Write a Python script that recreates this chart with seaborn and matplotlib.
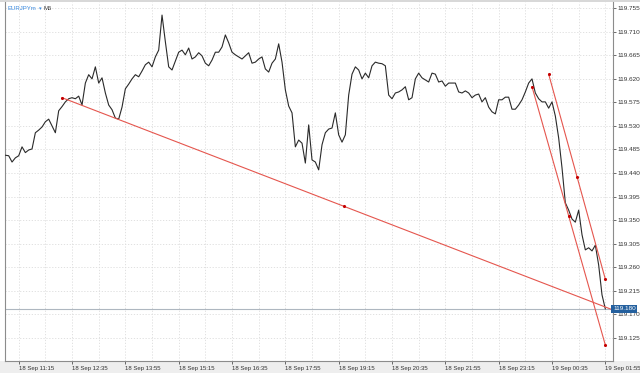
import numpy as np
import pandas as pd
import matplotlib
matplotlib.use("Agg")
import matplotlib.pyplot as plt
from matplotlib.patches import Rectangle
import seaborn as sns

# ---- data -------------------------------------------------------------
symbol = "EURJPYm"
timeframe = "M5"

close = [
    119.474, 119.473, 119.461, 119.469, 119.473, 119.490, 119.479, 119.484, 119.486, 119.517,
    119.522, 119.528, 119.538, 119.543, 119.530, 119.517, 119.559, 119.567, 119.576, 119.582,
    119.584, 119.582, 119.587, 119.570, 119.612, 119.628, 119.620, 119.643, 119.612, 119.622,
    119.593, 119.570, 119.561, 119.545, 119.543, 119.566, 119.601, 119.610, 119.620, 119.628,
    119.624, 119.635, 119.647, 119.652, 119.643, 119.662, 119.675, 119.742, 119.691, 119.643,
    119.637, 119.654, 119.671, 119.675, 119.666, 119.679, 119.658, 119.662, 119.670, 119.664,
    119.650, 119.645, 119.656, 119.671, 119.671, 119.681, 119.704, 119.689, 119.671, 119.666,
    119.662, 119.658, 119.664, 119.670, 119.650, 119.652, 119.658, 119.662, 119.639, 119.633,
    119.650, 119.658, 119.687, 119.652, 119.599, 119.568, 119.555, 119.490, 119.503, 119.497,
    119.459, 119.532, 119.465, 119.461, 119.446, 119.494, 119.517, 119.524, 119.526, 119.555,
    119.513, 119.499, 119.513, 119.589, 119.629, 119.643, 119.637, 119.620, 119.631, 119.622,
    119.645, 119.652, 119.650, 119.649, 119.645, 119.589, 119.582, 119.593, 119.595, 119.599,
    119.605, 119.580, 119.584, 119.620, 119.631, 119.622, 119.618, 119.614, 119.631, 119.629,
    119.614, 119.616, 119.606, 119.612, 119.612, 119.612, 119.595, 119.593, 119.597, 119.593,
    119.584, 119.589, 119.591, 119.576, 119.584, 119.566, 119.557, 119.553, 119.580, 119.580,
    119.585, 119.585, 119.562, 119.562, 119.570, 119.580, 119.595, 119.612, 119.620, 119.593,
    119.582, 119.576, 119.576, 119.564, 119.576, 119.549, 119.507, 119.450, 119.383, 119.369,
    119.352, 119.346, 119.369, 119.322, 119.293, 119.297, 119.291, 119.302, 119.264, 119.207,
    119.180,
]

time_labels = ["18 Sep 11:15", "18 Sep 12:35", "18 Sep 13:55", "18 Sep 15:15",
               "18 Sep 16:35", "18 Sep 17:55", "18 Sep 19:15", "18 Sep 20:35",
               "18 Sep 21:55", "18 Sep 23:15", "19 Sep 00:35", "19 Sep 01:55"]
time_label_bars = [4, 20, 36, 52, 68, 84, 100, 116, 132, 148, 164, 180]

price_ticks = [119.125, 119.170, 119.215, 119.260, 119.305, 119.350, 119.395,
               119.440, 119.485, 119.530, 119.575, 119.620, 119.665, 119.710, 119.755]

# trend lines: start / end anchors (bar index, price)
trend_long_bars = [17, 186]
trend_long_prices = [119.584, 119.169]
channel_a_bars = [158, 180]
channel_a_prices = [119.605, 119.111]
channel_b_bars = [163, 180]
channel_b_prices = [119.629, 119.237]

# ---- style ------------------------------------------------------------
sns.set_theme(style="white")
plt.rcParams["font.family"] = ["Liberation Sans", "DejaVu Sans"]

W, H = 640, 373
fig = plt.figure(figsize=(W / 100, H / 100), dpi=100)
fig.patch.set_facecolor("white")
fig.add_artist(Rectangle((0, 0), 1, 12 / H, transform=fig.transFigure,
                         facecolor="#eeeeee", edgecolor="none", zorder=0))
fig.add_artist(Rectangle((0, 1 - 2 / H), 1, 2 / H, transform=fig.transFigure,
                         facecolor="#d8d8d8", edgecolor="none", zorder=0))

ax = fig.add_axes([5 / W, 12 / H, 608 / W, 359 / H])
ax.set_facecolor("white")

df = pd.DataFrame({"bar": np.arange(len(close)), "close": close})
sns.lineplot(data=df, x="bar", y="close", ax=ax, color="#2a2a2a", lw=0.8, zorder=3)

last = close[-1]
ax.axhline(last, color="#aeb7c0", lw=0.8, zorder=2)

red_line = "#e5564e"
red_dot = "#c40000"
for bx, py in [(trend_long_bars, trend_long_prices),
               (channel_a_bars, channel_a_prices),
               (channel_b_bars, channel_b_prices)]:
    tdf = pd.DataFrame({"bar": bx, "price": py})
    sns.lineplot(data=tdf, x="bar", y="price", ax=ax, color=red_line, lw=0.8, zorder=4)
    pts_x = [bx[0], (bx[0] + bx[1]) / 2, bx[1]]
    pts_y = [py[0], (py[0] + py[1]) / 2, py[1]]
    ax.scatter(pts_x, pts_y, s=5, color=red_dot, zorder=5, linewidths=0)

# ticks & grid
ax.set_xticks(time_label_bars)
ax.set_xticklabels(time_labels, ha="left")
ax.set_xticks([b + 8 for b in time_label_bars], minor=True)
ax.set_yticks(price_ticks)
ax.set_yticklabels([f"{p:.3f}" for p in price_ticks])
ax.yaxis.tick_right()
ax.grid(True, which="both", axis="x", color="#dcdcdc", lw=0.6, linestyle=(0, (1.5, 2)))
ax.grid(True, which="major", axis="y", color="#dcdcdc", lw=0.6, linestyle=(0, (1.5, 2)))

# limits after ticks (set_xticks may widen them)
ax.set_xlim(-0.11, 182.3)
ax.set_ylim(119.0805, 119.767)

ax.tick_params(axis="x", which="major", labelsize=4.3, colors="#333333",
               length=2, width=0.5, pad=1.5, bottom=True, direction="out")
ax.tick_params(axis="x", which="minor", length=0)
ax.tick_params(axis="y", which="major", labelsize=4.6, colors="#333333",
               length=2, width=0.5, pad=1.0, right=True, left=False, direction="out")
ax.set_xlabel("")
ax.set_ylabel("")

for side in ["left", "bottom", "right"]:
    ax.spines[side].set_color("#8c8c8c")
    ax.spines[side].set_linewidth(0.8)
ax.spines["top"].set_visible(False)

ax.text(1.0, last, f"{last:.3f}", transform=ax.get_yaxis_transform(),
        ha="left", va="center", color="white", fontsize=4.6, zorder=10,
        bbox=dict(boxstyle="square,pad=0.25", fc="#24609e", ec="none"),
        clip_on=False)

fig.text(7 / W, 1 - 9 / H, symbol, color="#3a8ae0", fontsize=4.3, va="center", ha="left")
fig.text(38.5 / W, 1 - 9 / H, "▾", color="#3a8ae0", fontsize=3.8, va="center", ha="left",
         family=["DejaVu Sans"])
fig.text(43 / W, 1 - 9 / H, timeframe, color="#333333", fontsize=4.3, va="center", ha="left")

fig.savefig("out.png", dpi=100)
